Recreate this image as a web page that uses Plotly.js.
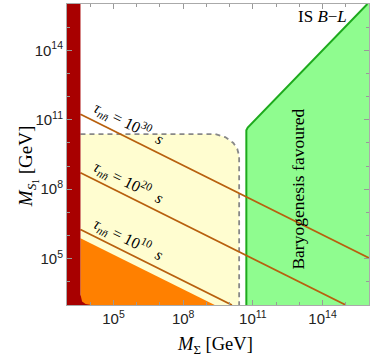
<!DOCTYPE html>
<html><head><meta charset="utf-8">
<script src="https://cdn.plot.ly/plotly-3.0.1.min.js"></script>
<style>html,body{margin:0;padding:0;background:#fff}#plot{width:374px;height:359px}</style>
</head><body><div id="plot"></div>
<script>
// All values are log10 of the mass in GeV
const majorTickExps = [5, 8, 11, 14];
const majorTickLabels = ["10<sup>5</sup>", "10<sup>8</sup>", "10<sup>11</sup>", "10<sup>14</sup>"];
const minorTickExps = [3, 4, 5, 6, 7, 8, 9, 10, 11, 12, 13, 14, 15, 16];

const excludedLogX = [3, 3.58, 3.58, 3.65, 3.8, 4.05, 3];
const excludedLogY = [16, 16, 3.45, 3.15, 3.04, 3, 3];

const orangeLogX = [3.58, 3.58, 9.36];
const orangeLogY = [3, 5.88, 3];

const yellowLogX = [3.58, 3.58, 9.38, 9.81, 10.16, 10.33, 10.41, 10.41];
const yellowLogY = [3, 10.38, 10.38, 10.25, 10.0, 9.74, 9.44, 3];

const greenLogX = [10.72, 10.72, 10.78, 15.93, 16, 16];
const greenLogY = [3, 10.55, 10.66, 16, 16, 3];

const tauExponents = ["30", "20", "10"];
const tauStartLogX = [3.58, 3.58, 3.58];
const tauStartLogY = [11.24, 8.71, 6.26];
const tauEndLogX = [16, 15.0, 10.1];
const tauEndLogY = [5.03, 3, 3];

const p = a => a.map(v => Math.pow(10, v));
const serif = "Liberation Serif, Times New Roman, serif";
const sans = "Liberation Sans, Arial, sans-serif";

const traces = [];
traces.push({x: p(yellowLogX), y: p(yellowLogY), fill: 'toself', fillcolor: '#FFFDD0', mode: 'lines', line: {width: 0}, hoverinfo: 'skip'});
traces.push({x: p(orangeLogX), y: p(orangeLogY), fill: 'toself', fillcolor: '#FF8000', mode: 'lines', line: {width: 0}, hoverinfo: 'skip'});
traces.push({x: p(greenLogX), y: p(greenLogY), fill: 'toself', fillcolor: '#8FFC8F', mode: 'lines', line: {width: 0}, hoverinfo: 'skip'});
traces.push({x: p(greenLogX.slice(0, 4)), y: p(greenLogY.slice(0, 4)), mode: 'lines', line: {color: '#1DAA1D', width: 2}, hoverinfo: 'skip'});
traces.push({x: p(yellowLogX.slice(1)), y: p(yellowLogY.slice(1)), mode: 'lines', line: {color: '#888888', width: 1.8, dash: '5px,4px'}, hoverinfo: 'skip'});
for (let i = 0; i < tauExponents.length; i++) {
  traces.push({x: p([tauStartLogX[i], tauEndLogX[i]]), y: p([tauStartLogY[i], tauEndLogY[i]]), mode: 'lines', line: {color: '#B8600E', width: 1.8}, hoverinfo: 'skip'});
}
traces.push({x: p(excludedLogX), y: p(excludedLogY), fill: 'toself', fillcolor: '#A80000', mode: 'lines', line: {width: 0}, hoverinfo: 'skip'});

const annotations = [];
const labelLogX = 5.4;
for (let i = 0; i < tauExponents.length; i++) {
  const yl = tauStartLogY[i] - 0.5 * (labelLogX - tauStartLogX[i]);
  annotations.push({x: labelLogX, y: yl, xref: 'x', yref: 'y', showarrow: false, textangle: 26.57,
    xshift: 6, yshift: 12,
    text: '<i>τ</i><sub><i>nn̄</i></sub> = 10<sup>' + tauExponents[i] + '</sup>  <i>s</i>',
    font: {family: serif, size: 16, color: '#000'}});
}
annotations.push({x: 14.0, y: 15.45, xref: 'x', yref: 'y', showarrow: false, text: 'IS <i>B</i>−<i>L</i>', font: {family: serif, size: 17, color: '#000'}});
annotations.push({x: 12.96, y: 8.0, xref: 'x', yref: 'y', showarrow: false, textangle: -90, text: 'Baryogenesis favoured', font: {family: serif, size: 17.5, color: '#000'}});
annotations.push({x: 0.49, y: -0.09, xref: 'paper', yref: 'paper', yanchor: 'top', showarrow: false, text: '<i>M</i><sub>Σ</sub> [GeV]', font: {family: serif, size: 18.5, color: '#000'}});
annotations.push({x: -0.18, y: 0.46, xref: 'paper', yref: 'paper', showarrow: false, textangle: -90, text: '<i>M</i><sub><i>S</i><sub>1</sub></sub> [GeV]', font: {family: serif, size: 19, color: '#000'}});

const axisCommon = {
  type: 'log', range: [3, 16], showgrid: false, zeroline: false,
  showline: true, linecolor: '#AAAAAA', linewidth: 1, mirror: 'ticks',
  ticks: 'inside', ticklen: 5, tickcolor: '#999999', tickwidth: 1,
  tickvals: p(majorTickExps), ticktext: majorTickLabels,
  tickfont: {family: sans, size: 15, color: '#222'},
  minor: {tickvals: p(minorTickExps), ticks: 'inside', ticklen: 3, tickcolor: '#999999'}
};

const layout = {
  width: 374, height: 359,
  margin: {l: 67, r: 5, t: 4, b: 54},
  paper_bgcolor: '#fff', plot_bgcolor: '#fff',
  showlegend: false,
  xaxis: Object.assign({}, axisCommon),
  yaxis: Object.assign({}, axisCommon),
  annotations: annotations
};

Plotly.newPlot('plot', traces, layout, {staticPlot: true, displayModeBar: false});
</script></body></html>
